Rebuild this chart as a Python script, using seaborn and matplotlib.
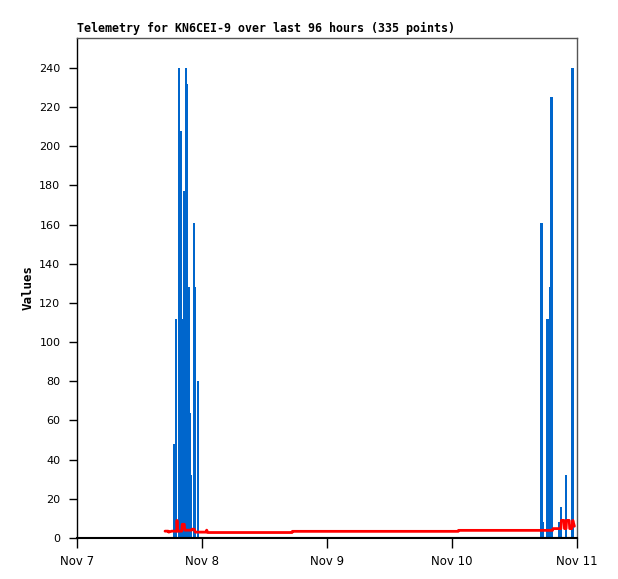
import matplotlib
matplotlib.use("Agg")
import matplotlib.pyplot as plt
import seaborn as sns
import pandas as pd

# hours since Nov 7 00:00
bar_hours = [18.72, 19.0, 19.58, 19.97, 20.16, 20.54, 20.93, 21.12, 21.5, 21.7, 21.9, 22.46, 22.66, 23.23,
             89.18, 89.47, 90.34, 90.62, 90.91, 91.1, 92.64, 92.93, 93.89, 95.14]
bar_values = [48, 112, 240, 208, 112, 177, 240, 232, 128, 64, 32, 161, 128, 80,
              161, 8, 112, 88, 128, 225, 8, 16, 32, 240]

red_hours = [16.9, 17.5, 17.6, 18.2, 18.6, 19.15, 19.2, 19.3, 20.1, 20.2, 20.6, 20.7, 22.0, 22.1, 22.5,
             22.7, 24.8, 24.9, 25.1, 41.3, 41.35, 73.2, 73.25, 91.3, 91.4, 92.9, 93.0, 93.5, 93.6,
             93.9, 94.0, 94.5, 94.6, 95.0, 95.2, 95.5]
red_values = [3.5, 3.5, 3.0, 3.5, 3.5, 3.5, 9, 3.5, 3.5, 7, 7, 4, 4, 4.5, 4.5,
              3, 3, 4, 2.8, 2.8, 3.4, 3.4, 3.9, 3.9, 4.8, 4.8, 9, 9, 4.8,
              4.8, 9, 9, 4.8, 4.8, 9, 6]

black_hours = [16.9, 95.5]
black_values = [0, 0]

day_ticks = [0, 24, 48, 72, 96]
day_labels = ["Nov 7", "Nov 8", "Nov 9", "Nov 10", "Nov 11"]
title = "Telemetry for KN6CEI-9 over last 96 hours (335 points)"


def main():
    sns.set_style("ticks")
    plt.rcParams['font.family'] = ['DejaVu Sans']
    plt.rcParams['text.color'] = 'black'
    plt.rcParams['axes.labelcolor'] = 'black'

    fig = plt.figure(figsize=(6.18, 5.79), dpi=100)
    ax = fig.add_axes([77 / 618, 41 / 579, 500 / 618, 500 / 579])

    ax.bar(bar_hours, bar_values, width=0.45, color="#0066cc", linewidth=0, zorder=2)
    red = pd.DataFrame({"time": red_hours, "value": red_values})
    sns.lineplot(data=red, x="time", y="value", color="#ff0000", linewidth=2.0, ax=ax, zorder=3)
    black = pd.DataFrame({"time": black_hours, "value": black_values})
    sns.lineplot(data=black, x="time", y="value", color="black", linewidth=2.2, ax=ax, zorder=4)

    ax.set_xlim(0, 96)
    ax.set_ylim(0, 255.3)
    ax.set_xticks(day_ticks)
    ax.set_xticklabels(day_labels)
    ax.set_yticks(range(0, 241, 20))
    ax.set_xlabel("")
    ax.set_ylabel("Values", fontsize=9, fontweight="bold", family="DejaVu Sans Mono", labelpad=3, color="black")
    ax.set_title(title, loc="left", fontsize=8.4, fontweight="bold", family="DejaVu Sans Mono", pad=4, color="black")

    ax.tick_params(axis="y", direction="out", length=6, width=1, labelsize=8, colors="black", pad=6)
    ax.tick_params(axis="x", direction="out", length=7, width=1, labelsize=8.5, colors="black", pad=5)
    for side in ["top", "right"]:
        ax.spines[side].set_visible(True)
        ax.spines[side].set_color("#555555")
        ax.spines[side].set_linewidth(1)
    ax.spines["left"].set_color("black")
    ax.spines["left"].set_linewidth(1)
    ax.spines["bottom"].set_color("black")
    ax.spines["bottom"].set_linewidth(1.5)
    ax.grid(False)

    fig.savefig("out.png", dpi=100)


if __name__ == '__main__':
    main()
